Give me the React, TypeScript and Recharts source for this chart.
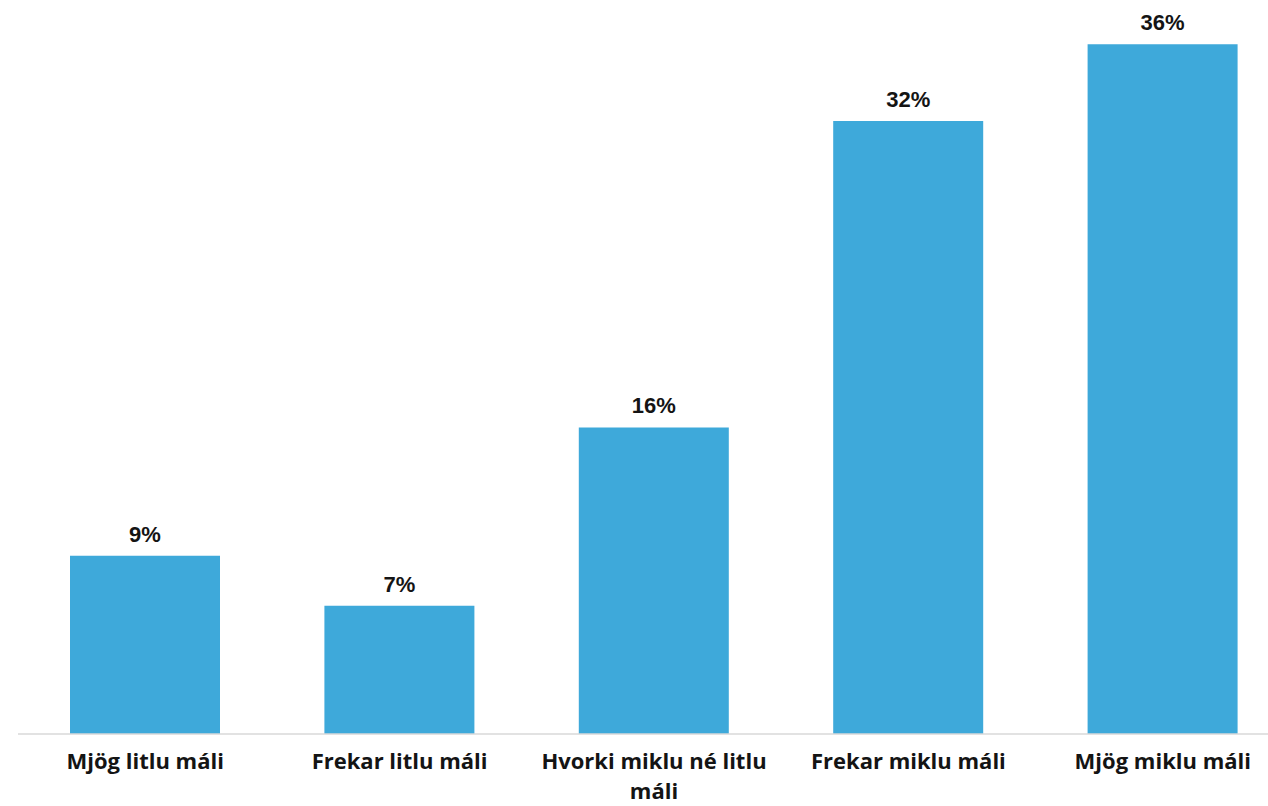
import React from "react";
import { BarChart, Bar, XAxis, YAxis, LabelList } from "recharts";

const categories = [
  "Mjög litlu máli",
  "Frekar litlu máli",
  "Hvorki miklu né litlu máli",
  "Frekar miklu máli",
  "Mjög miklu máli",
];
const shares = [9.3, 6.7, 16, 32, 36];
const tickLines: Record<string, string[]> = {
  "Hvorki miklu né litlu máli": ["Hvorki miklu né litlu", "máli"],
};

const data = categories.map((name, i) => ({ name, value: shares[i] }));

const CategoryTick = (props: any) => {
  const { x, y, payload } = props;
  const lines = tickLines[payload.value] || [payload.value];
  return (
    <text
      x={x}
      y={y + 27}
      textAnchor="middle"
      fill="#141414"
      fontFamily="'Open Sans', sans-serif"
      fontWeight={700}
      fontSize={22}
    >
      {lines.map((line: string, i: number) => (
        <tspan key={i} x={x} dy={i === 0 ? 0 : 30}>
          {line}
        </tspan>
      ))}
    </text>
  );
};

export default function App() {
  return (
    <div
      style={{
        position: "absolute",
        left: 0,
        top: 0,
        width: 1268,
        height: 806,
        overflow: "hidden",
        background: "#fff",
      }}
    >
      <BarChart
        width={1290}
        height={806}
        data={data}
        margin={{ top: 6, right: 0, left: 18, bottom: 0 }}
        barCategoryGap={0}
      >
        <XAxis
          dataKey="name"
          height={72}
          axisLine={{ stroke: "#d9d9d9", strokeWidth: 1.5 }}
          tickLine={false}
          interval={0}
          tick={<CategoryTick />}
        />
        <YAxis hide domain={[0, 38]} />
        <Bar dataKey="value" fill="#3ea9da" barSize={150} isAnimationActive={false}>
          <LabelList
            dataKey="value"
            position="top"
            offset={14}
            formatter={(v: any) => `${Math.round(Number(v))}%`}
            fill="#141414"
            fontFamily="'Liberation Sans', Arial, sans-serif"
            fontWeight={700}
            fontSize={22}
          />
        </Bar>
      </BarChart>
    </div>
  );
}
